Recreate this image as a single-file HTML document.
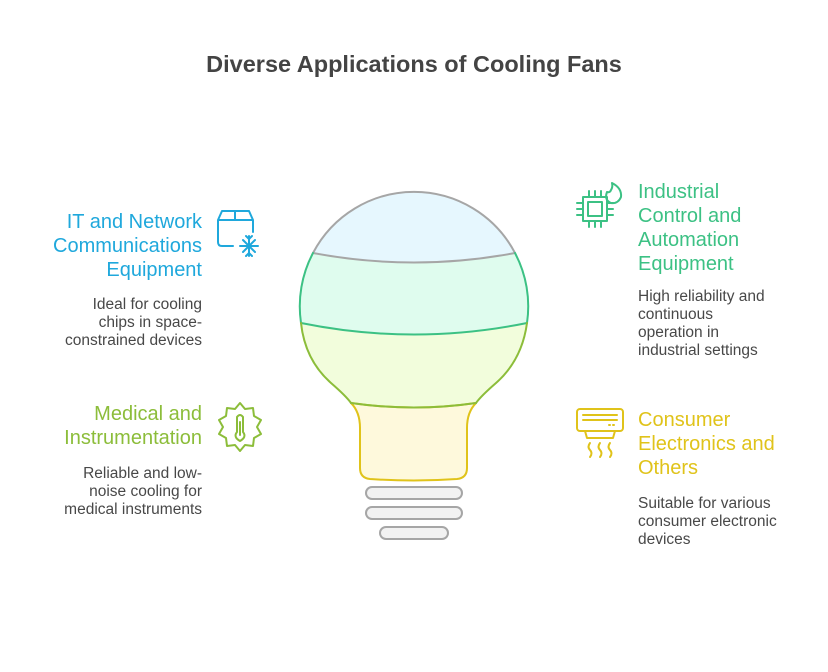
<!DOCTYPE html>
<html><head><meta charset="utf-8"><style>
body{margin:0;width:828px;height:672px;background:#fff;position:relative;font-family:"Liberation Sans",sans-serif;overflow:hidden}
.t{position:absolute;white-space:nowrap}
.h{font-size:20px;line-height:24px}
.d{font-size:15.5px;line-height:18px;color:#484848}
.r{text-align:right}
</style></head><body>
<div class="t" style="left:0;width:828px;text-align:center;top:51px;font-size:23.5px;font-weight:bold;color:#444">Diverse Applications of Cooling Fans</div>

<div class="t h r" style="right:626px;top:210px;color:#1fa8dc">IT and Network<br>Communications<br>Equipment</div>
<div class="t d r" style="right:626px;top:296px">Ideal for cooling<br>chips in space-<br>constrained devices</div>
<div class="t h r" style="right:626px;top:402px;color:#8cbd3a">Medical and<br>Instrumentation</div>
<div class="t d r" style="right:626px;top:465px">Reliable and low-<br>noise cooling for<br>medical instruments</div>

<div class="t h" style="left:638px;top:180px;color:#3cc184">Industrial<br>Control and<br>Automation<br>Equipment</div>
<div class="t d" style="left:638px;top:288px">High reliability and<br>continuous<br>operation in<br>industrial settings</div>
<div class="t h" style="left:638px;top:408px;color:#e0c31a">Consumer<br>Electronics and<br>Others</div>
<div class="t d" style="left:638px;top:495px">Suitable for various<br>consumer electronic<br>devices</div>

<svg width="828" height="672" style="position:absolute;left:0;top:0" fill="none" stroke-width="2" stroke-linecap="round" stroke-linejoin="round">
<path d="M313,253 A114,114 0 0 1 515,253 Q414,272 313,253 Z" fill="#e6f7fe" stroke="none"/>
<path d="M313,253 Q414,272 515,253 A114,114 0 0 1 527,323 Q414,346 301,323 A114,114 0 0 1 313,253 Z" fill="#dffcee" stroke="none"/>
<path d="M301,323 Q414,346 527,323 Q522,360 496,383 Q481,396 476,403 Q414,412 351,403 Q346,396 331,383 Q305,360 301,323 Z" fill="#f2fddc" stroke="none"/>
<path d="M351,403 Q414,412 476,403 Q467,412 467,428 L467,468 Q467,478 457,479 Q414,482 370,479 Q360,478 360,468 L360,428 Q360,412 351,403 Z" fill="#fef9dc" stroke="#e0c31a"/>
<path d="M313,253 A114,114 0 0 1 515,253" stroke="#a6a6a6"/>
<path d="M313,253 Q414,272 515,253" stroke="#a6a6a6"/>
<path d="M313,253 A114,114 0 0 0 301,323 M515,253 A114,114 0 0 1 527,323" stroke="#3cc184"/>
<path d="M301,323 Q414,346 527,323" stroke="#3cc184"/>
<path d="M301,323 Q305,360 331,383 Q346,396 351,403 M527,323 Q522,360 496,383 Q481,396 476,403" stroke="#8cbd3a"/>
<path d="M351,403 Q414,412 476,403" stroke="#8cbd3a"/>
<rect x="366" y="487" width="96" height="12" rx="6" fill="#f2f2f2" stroke="#a6a6a6"/>
<rect x="366" y="507" width="96" height="12" rx="6" fill="#f2f2f2" stroke="#a6a6a6"/>
<rect x="380" y="527" width="68" height="12" rx="6" fill="#f2f2f2" stroke="#a6a6a6"/>
<g stroke="#1fa8dc">
<path d="M233,246 H222 Q218,246 218,242 V220 L222,211 H249 L253,220 V232 M218,220 H253 M235,211 V220"/>
<path d="M249,236 V256 M240,246 H258 M243,240 L255,252 M255,240 L243,252 M246,236 L249,239 L252,236 M246,256 L249,253 L252,256"/>
</g>
<g stroke="#8cbd3a">
<path d="M240,403 L245,409 L253,408 L254,416 L261,420 L257,427 L261,434 L254,438 L253,446 L245,445 L240,451 L235,445 L227,446 L226,438 L219,434 L223,427 L219,420 L226,416 L227,408 L235,409 Z"/>
<path d="M237,432 V417 Q240,413 243,417 V432 Q247,437 240,441 Q233,437 237,432 Z M240,422 V435"/>
</g>
<g stroke="#3cc184">
<rect x="583" y="197" width="24" height="24"/><rect x="588" y="202" width="14" height="14"/>
<path d="M589,191 V197 M595,191 V197 M601,191 V197 M589,221 V227 M595,221 V227 M601,221 V227 M577,203 H583 M577,209 H583 M577,215 H583 M607,203 H613 M607,209 H613 M607,215 H613"/>
<path d="M612,183 Q622,188 621,197 Q618,204 611,203 Q604,200 607,192 Q610,193 611,190 Q613,187 612,183 Z"/>
</g>
<g stroke="#e0c31a">
<rect x="577" y="409" width="46" height="22" rx="3"/>
<path d="M583,415 H617 M583,420 H617 M585,431 L587,438 H613 L615,431 M609,425 H610 M613,425 H614"/>
<path d="M590,443 Q587,447 590,450 Q593,453 590,457 M600,443 Q597,447 600,450 Q603,453 600,457 M610,443 Q607,447 610,450 Q613,453 610,457"/>
</g>
</svg>
</body></html>
